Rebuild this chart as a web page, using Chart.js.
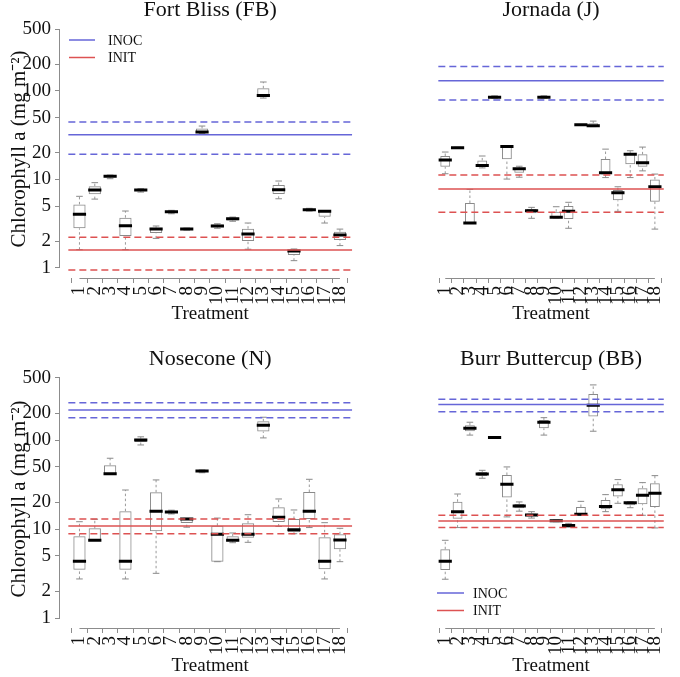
<!DOCTYPE html>
<html><head><meta charset="utf-8">
<script src="https://cdn.jsdelivr.net/npm/chart.js@4.4.0/dist/chart.umd.min.js"></script>
<style>
html,body{margin:0;padding:0;background:#fff;}
body{width:680px;height:677px;position:relative;overflow:hidden;}
canvas{position:absolute;}
</style></head><body>
<canvas id="c1" width="370" height="330" style="left:0;top:0"></canvas>
<canvas id="c2" width="340" height="330" style="left:340px;top:0"></canvas>
<canvas id="c3" width="370" height="337" style="left:0;top:340px"></canvas>
<canvas id="c4" width="340" height="337" style="left:340px;top:340px"></canvas>
<script>
// ---------------- data ----------------
const treatments = ['1','2','3','4','5','6','7','8','9','10','11','12','13','14','15','16','17','18'];
const yTickValues = [1, 2, 5, 10, 20, 50, 100, 200, 500];
const panelTitles = ['Fort Bliss (FB)', 'Jornada (J)', 'Nosecone (N)', 'Burr Buttercup (BB)'];
const legendLabels = ['INOC', 'INIT'];
const xTitle = 'Treatment';
const yTitle = 'Chlorophyll a (mg m\u207B\u00B2)';

// each row: [lower whisker, Q1, median, Q3, upper whisker]
const fortBliss = [
  [1.61, 2.81, 4.04, 5.23, 6.45], [6.0, 6.8, 7.6, 8.4, 9.2], [10.2, 10.6, 10.9, 11.0, 11.2],
  [1.61, 2.30, 3.0, 3.70, 4.40], [7.2, 7.45, 7.6, 7.7, 7.85], [2.16, 2.48, 2.75, 2.85, 2.98],
  [4.1, 4.25, 4.32, 4.40, 4.48], [2.68, 2.71, 2.75, 2.78, 2.82], [33, 33.4, 34.3, 37.7, 40.1],
  [2.81, 2.88, 2.98, 3.09, 3.16], [3.37, 3.45, 3.60, 3.70, 3.76], [1.63, 2.02, 2.42, 2.78, 3.22],
  [83, 85, 89, 107, 126], [6.05, 6.84, 7.65, 8.65, 9.6], [1.21, 1.40, 1.56, 1.60, 1.64],
  [4.4, 4.48, 4.55, 4.65, 4.72], [3.22, 3.79, 4.36, 4.43, 4.45], [1.79, 2.07, 2.36, 2.57, 2.75]
];
const jornada = [
  [11.6, 13.9, 16.6, 18.4, 20.4], [22.5, 22.6, 22.8, 22.9, 23.1], [3.22, 3.22, 3.22, 5.42, 7.73],
  [13.5, 13.9, 14.4, 16.4, 18.4], [83, 84, 85, 86, 88], [10.1, 16.9, 23.6, 23.6, 23.6],
  [10.6, 11.9, 13.2, 13.5, 14.1], [3.64, 4.14, 4.43, 4.63, 4.84], [83, 84, 85, 86, 88],
  [3.68, 3.70, 3.73, 4.32, 4.92], [2.81, 3.57, 4.36, 5.01, 5.52], [41, 41.2, 41.4, 41.6, 41.8],
  [39.5, 40, 40.4, 43, 45.6], [10.5, 11.4, 11.9, 17, 22], [4.36, 5.81, 7.08, 7.59, 8.27],
  [10.5, 14.8, 19.2, 19.7, 21.1], [12.5, 13.9, 15.4, 19.2, 23.2], [2.75, 5.6, 8.27, 10.0, 11.5]
];
const nosecone = [
  [2.75, 3.49, 4.35, 8.3, 12.1], [7.48, 7.48, 7.48, 10.2, 12.9], [41.3, 41.7, 42, 52.2, 62.6],
  [2.75, 3.49, 4.35, 15.9, 27.5], [88.3, 95.5, 100.5, 104, 109], [3.18, 9.44, 15.9, 25.9, 35.7],
  [14.8, 15.2, 15.6, 15.9, 16.3], [10.5, 11.7, 13.0, 13.1, 13.2], [43, 43.8, 45, 45.5, 46.2],
  [4.30, 4.30, 8.74, 10.9, 13.3], [7.03, 7.29, 7.48, 8.3, 9.04], [7.1, 8.0, 8.74, 11.6, 14.5],
  [106, 125, 147, 163, 181], [10.7, 12.0, 13.6, 17.6, 21.8], [8.87, 9.2, 9.85, 13.0, 16.4],
  [10.4, 13.0, 15.9, 26.1, 36.3], [2.75, 3.53, 4.35, 8.08, 11.8], [4.30, 5.93, 7.54, 8.74, 10.2]
];
const burrButtercup = [
  [2.73, 3.47, 4.35, 5.93, 7.48], [10.4, 13.1, 15.7, 20.3, 24.8], [114, 126, 136, 147, 159],
  [37.3, 39.6, 41.7, 43.9, 45.8], [106, 106.5, 107, 107.5, 108], [13.7, 22.6, 31.9, 40.6, 50],
  [15.9, 17.1, 18.2, 19.2, 20.2], [13.3, 13.9, 14.4, 15.0, 15.7], [114, 136, 159, 169, 179],
  [12.1, 12.3, 12.4, 12.5, 12.6], [10.5, 10.8, 11.0, 11.3, 11.6], [14.3, 14.3, 14.7, 17.7, 20.5],
  [126, 184, 247, 331, 418], [15.7, 16.7, 17.9, 21.2, 24.4], [19.5, 23.2, 27.7, 31.9, 36],
  [17.4, 18.5, 19.8, 20.1, 20.3], [14.3, 19.0, 24.0, 28.8, 33.3], [10.3, 17.7, 25.3, 32.7, 39.9]
];
// reference levels per panel: [lower, mean, upper]
const inocLevels = [[19.2, 32, 44.5], [79, 130, 189], [179, 219, 264], [209, 251, 289]];
const initLevels = [[0.95, 1.6, 2.22], [4.25, 7.8, 11.2], [8.87, 10.8, 13.0], [10.4, 12.3, 14.3]];

// ---------------- style ----------------
const FONT = "'Liberation Serif', 'Times New Roman', serif";
const INOC_COLOR = '#6666d8';
const INIT_COLOR = '#dd5252';
const BOX_COLOR = '#8a8a8a';
const WHISKER_COLOR = '#9a9a9a';
const AXIS_COLOR = '#8c8c8c';
const TEXT_COLOR = '#111';
Chart.defaults.font.family = FONT;

const axisLinePlugin = {
  id: 'rAxisLines',
  beforeDatasetsDraw(chart, args, opts) {
    const {ctx, chartArea: a, scales: {x, y}} = chart;
    ctx.save();
    ctx.strokeStyle = AXIS_COLOR;
    ctx.lineWidth = 1;
    ctx.beginPath();
    ctx.moveTo(x.getPixelForValue(1), a.bottom + 0.5);
    ctx.lineTo(x.getPixelForValue(treatments.length), a.bottom + 0.5);
    if (opts.showY) {
      ctx.moveTo(a.left - 0.5, y.getPixelForValue(yTickValues[0]));
      ctx.lineTo(a.left - 0.5, y.getPixelForValue(yTickValues[yTickValues.length - 1]));
    }
    ctx.stroke();
    ctx.restore();
  }
};

const refLegendPlugin = {
  id: 'refLegend',
  afterDatasetsDraw(chart, args, opts) {
    if (!opts.where) return;
    const {ctx, chartArea: a} = chart;
    const items = [[legendLabels[0], INOC_COLOR], [legendLabels[1], INIT_COLOR]];
    ctx.save();
    ctx.font = '14px ' + FONT;
    ctx.textBaseline = 'middle';
    ctx.textAlign = 'left';
    items.forEach((it, k) => {
      const yy = (opts.where === 'top' ? a.top + 20 : a.bottom - 35) + k * 17.5;
      ctx.strokeStyle = it[1];
      ctx.lineWidth = 1.5;
      ctx.beginPath();
      ctx.moveTo(a.left + opts.x0, yy);
      ctx.lineTo(a.left + opts.x1, yy);
      ctx.stroke();
      ctx.fillStyle = TEXT_COLOR;
      ctx.fillText(it[0], a.left + opts.tx, yy + 1);
    });
    ctx.restore();
  }
};

function makePanel(p) {
  const stats = p.stats;
  const boxes = stats.map((s, i) => ({x: i + 1, y: [s[1], s[3]]}));
  const medians = stats.map((s, i) => ({x: i + 1, y: s[2]}));
  const caps = [];
  const whiskers = [];
  stats.forEach((s, i) => {
    caps.push({x: i + 1, y: s[0]}, {x: i + 1, y: s[4]});
    whiskers.push({x: i + 1, y: s[3]}, {x: i + 1, y: s[4]}, {x: i + 1, y: null},
                  {x: i + 1, y: s[0]}, {x: i + 1, y: s[1]}, {x: i + 1, y: null});
  });
  const ref = (v, color, dashed) => ({
    type: 'line', data: [{x: p.xMin, y: v}, {x: p.xMax, y: v}],
    borderColor: color, borderWidth: 1.5, borderDash: dashed ? [7, 4] : [],
    pointRadius: 0, order: 0
  });
  const datasets = [
    ref(p.inoc[0], INOC_COLOR, true), ref(p.inoc[1], INOC_COLOR, false), ref(p.inoc[2], INOC_COLOR, true),
    ref(p.init[0], INIT_COLOR, true), ref(p.init[1], INIT_COLOR, false), ref(p.init[2], INIT_COLOR, true),
    {type: 'scatter', data: medians, pointStyle: 'line', pointRadius: 6.6, pointBorderWidth: 3,
     pointBorderColor: '#000', pointBackgroundColor: '#000', order: 1},
    {type: 'bar', data: boxes, backgroundColor: 'rgba(255,255,255,0)', borderColor: BOX_COLOR,
     borderWidth: 1, borderSkipped: false, barPercentage: 0.8, categoryPercentage: 1, grouped: false, order: 2},
    {type: 'scatter', data: caps, pointStyle: 'line', pointRadius: 3.3, pointBorderWidth: 1,
     pointBorderColor: BOX_COLOR, order: 3},
    {type: 'line', data: whiskers, borderColor: WHISKER_COLOR, borderWidth: 1, borderDash: [2.5, 2.5],
     pointRadius: 0, spanGaps: false, order: 4}
  ];
  return new Chart(document.getElementById(p.id), {
    type: 'bar',
    data: {datasets},
    plugins: [axisLinePlugin, refLegendPlugin],
    options: {
      responsive: false, animation: false, events: [],
      layout: {padding: p.pad},
      plugins: {
        legend: {display: false}, tooltip: {enabled: false},
        title: {display: true, text: p.title, fullSize: false, color: TEXT_COLOR,
                font: {size: 22, weight: 'normal', lineHeight: 0.5}, padding: p.titlePad},
        rAxisLines: {showY: p.showY},
        refLegend: p.legend
      },
      scales: {
        x: {
          type: 'linear', min: p.xMin, max: p.xMax, bounds: 'data',
          afterBuildTicks: s => { s.ticks = treatments.map((t, i) => ({value: i + 1})); },
          afterFit: s => { s.height = p.xAxisH; s.paddingLeft = 0; s.paddingRight = 0; },
          ticks: {autoSkip: false, minRotation: 90, maxRotation: 90, padding: 3, color: TEXT_COLOR,
                  font: {size: 19}, callback: (v, i) => treatments[i]},
          grid: {drawOnChartArea: false, drawTicks: true, tickLength: 5, color: AXIS_COLOR},
          border: {display: false},
          title: {display: true, text: xTitle, color: TEXT_COLOR, font: {size: 19, lineHeight: 1},
                  padding: {top: 0, bottom: p.xTitlePad}}
        },
        y: {
          type: 'logarithmic', min: p.yMin, max: p.yMax, bounds: 'data', display: p.showY,
          afterBuildTicks: s => { s.ticks = yTickValues.map(v => ({value: v, major: false})); },
          afterFit: s => { s.width = 60; s.paddingTop = 0; s.paddingBottom = 0; },
          ticks: {padding: 4, color: TEXT_COLOR, font: {size: 19}, callback: v => String(v)},
          grid: {drawOnChartArea: false, drawTicks: true, tickLength: 5, color: AXIS_COLOR},
          border: {display: false},
          title: {display: true, text: yTitle, color: TEXT_COLOR, font: {size: 21, lineHeight: 1},
                  padding: {top: 8.5, bottom: 0}}
        }
      }
    }
  });
}

const TOP_Y = {yMin: 0.771, yMax: 632, xAxisH: 52, titlePad: {top: 4.5, bottom: 4.5}, xTitlePad: 6.5};
const BOT_Y = {yMin: 0.772, yMax: 615, xAxisH: 49, titlePad: {top: 14, bottom: 5}, xTitlePad: 1.9};
const LEFT_X = {xMin: 0.274, xMax: 18.79, showY: true};
const RIGHT_X = {xMin: 0.44, xMax: 18.72, showY: false};

makePanel(Object.assign({id: 'c1', stats: fortBliss, inoc: inocLevels[0], init: initLevels[0], title: panelTitles[0],
  pad: {left: 0, right: 4, top: 0, bottom: 0}, legend: {where: 'top', x0: 9, x1: 35, tx: 48}}, TOP_Y, LEFT_X));
makePanel(Object.assign({id: 'c2', stats: jornada, inoc: inocLevels[1], init: initLevels[1], title: panelTitles[1],
  pad: {left: 31.7, right: 5, top: 0, bottom: 0}, legend: {where: null}}, TOP_Y, RIGHT_X));
makePanel(Object.assign({id: 'c3', stats: nosecone, inoc: inocLevels[2], init: initLevels[2], title: panelTitles[2],
  pad: {left: 0, right: 4, top: 0, bottom: 0}, legend: {where: null}}, BOT_Y, LEFT_X));
makePanel(Object.assign({id: 'c4', stats: burrButtercup, inoc: inocLevels[3], init: initLevels[3], title: panelTitles[3],
  pad: {left: 31.7, right: 5, top: 0, bottom: 0}, legend: {where: 'bottom', x0: 5.3, x1: 32.3, tx: 41.3}}, BOT_Y, RIGHT_X));
</script>
</body></html>
